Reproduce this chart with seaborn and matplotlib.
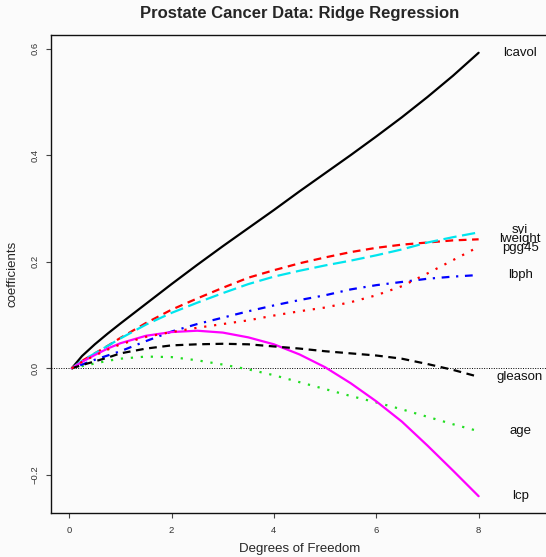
import numpy as np
import pandas as pd
import matplotlib
matplotlib.use("Agg")
import matplotlib.pyplot as plt
import seaborn as sns

# ---- data ----
df_grid = [0.05, 0.25, 0.5, 0.75, 1, 1.5, 2, 2.5, 3, 3.5, 4, 4.5, 5, 5.5, 6, 6.5, 7, 7.5, 8]

lcavol  = [0, 0.023, 0.045, 0.065, 0.084, 0.121, 0.158, 0.194, 0.229, 0.263, 0.297, 0.332, 0.366, 0.400, 0.435, 0.471, 0.509, 0.549, 0.592]
lweight = [0, 0.014, 0.028, 0.042, 0.057, 0.085, 0.110, 0.131, 0.151, 0.170, 0.184, 0.197, 0.208, 0.218, 0.226, 0.232, 0.236, 0.240, 0.242]
svi     = [0, 0.014, 0.028, 0.042, 0.056, 0.082, 0.104, 0.123, 0.141, 0.158, 0.172, 0.183, 0.193, 0.202, 0.212, 0.223, 0.236, 0.246, 0.255]
pgg45   = [0, 0.012, 0.024, 0.035, 0.045, 0.059, 0.068, 0.076, 0.083, 0.090, 0.099, 0.107, 0.114, 0.124, 0.137, 0.154, 0.178, 0.203, 0.228]
lbph    = [0, 0.007, 0.016, 0.024, 0.032, 0.051, 0.069, 0.083, 0.095, 0.107, 0.118, 0.128, 0.137, 0.148, 0.156, 0.162, 0.168, 0.172, 0.175]
gleason = [0, 0.006, 0.013, 0.020, 0.028, 0.037, 0.043, 0.045, 0.046, 0.045, 0.041, 0.037, 0.032, 0.028, 0.024, 0.018, 0.008, -0.003, -0.016]
age     = [0, 0.004, 0.009, 0.014, 0.018, 0.022, 0.021, 0.015, 0.007, -0.002, -0.013, -0.026, -0.039, -0.052, -0.064, -0.077, -0.091, -0.105, -0.118]
lcp     = [0, 0.012, 0.025, 0.037, 0.047, 0.061, 0.068, 0.0705, 0.067, 0.058, 0.045, 0.026, 0.002, -0.028, -0.062, -0.100, -0.145, -0.192, -0.240]

names = ["lcavol", "lweight", "age", "lbph", "svi", "lcp", "gleason", "pgg45"]
series = {"lcavol": lcavol, "lweight": lweight, "age": age, "lbph": lbph,
          "svi": svi, "lcp": lcp, "gleason": gleason, "pgg45": pgg45}
label_y_offset = {"svi": 0.005, "lweight": 0.0, "pgg45": -0.003}

colors = {"lcavol": "black", "lweight": "#ff0000", "age": "#22dd22", "lbph": "#0000ff",
          "svi": "#00e5ee", "lcp": "#ff00ff", "gleason": "black", "pgg45": "#ff0000"}
dashes = {"lcavol": None, "lweight": (3.5, 2.5), "age": (1, 3.5), "lbph": (1, 3, 3.5, 3),
          "svi": (6, 2.5), "lcp": None, "gleason": (3.5, 2.5), "pgg45": (1, 3.5)}

rows = []
for n in names:
    for x, y in zip(df_grid, series[n]):
        rows.append({"df": x, "coef": y, "var": n})
data = pd.DataFrame(rows)

sns.set_style("ticks")
plt.rcParams["font.family"] = ["Liberation Sans", "DejaVu Sans"]

fig = plt.figure(figsize=(5.46, 5.57), dpi=100, facecolor="#fbfbfb")
ax = fig.add_axes([0.0938, 0.079, 0.9117, 0.8587], facecolor="#fbfbfb")

ax.axhline(0, color="black", lw=0.7, ls=(0, (1, 1.5)), zorder=1)

for n in names:
    sub = data[data["var"] == n]
    ls = "-" if dashes[n] is None else (0, dashes[n])
    sns.lineplot(data=sub, x="df", y="coef", ax=ax, color=colors[n], lw=1.6,
                 linestyle=ls, sort=False, estimator=None, legend=False, zorder=3)
    ax.text(8.81, series[n][-1] + label_y_offset.get(n, 0), n, ha="center", va="center",
            fontsize=9.5, color="#111111")

ax.set_xlim(-0.352, 9.375)
ax.set_ylim(-0.2715, 0.6259)
ax.set_xticks([0, 2, 4, 6, 8])
ax.set_yticks([-0.2, 0.0, 0.2, 0.4, 0.6])
ax.set_xticklabels(["0", "2", "4", "6", "8"])
ax.set_yticklabels(["\u22120.2", "0.0", "0.2", "0.4", "0.6"], rotation=90, va="center")
ax.tick_params(axis="both", labelsize=6.8, length=3.6, width=0.8, colors="#444444",
               labelcolor="#333333")
ax.tick_params(axis="y", pad=4.5)
ax.tick_params(axis="x", pad=5.5)
for s in ax.spines.values():
    s.set_color("#111111")
    s.set_linewidth(1.0)

ax.set_xlabel("Degrees of Freedom", fontsize=9.5, labelpad=6)
ax.set_ylabel("coefficients", fontsize=9.5, labelpad=9)
ax.set_title("Prostate Cancer Data: Ridge Regression", fontsize=12, fontweight="bold", pad=12)

fig.savefig("out.png", dpi=100, facecolor=fig.get_facecolor())
